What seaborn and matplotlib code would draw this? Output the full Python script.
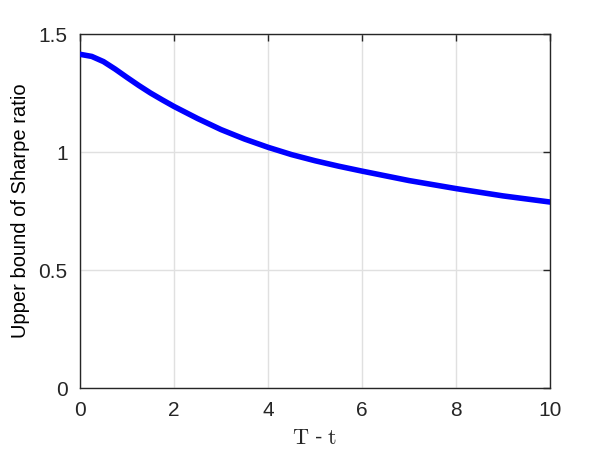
import matplotlib
matplotlib.use("Agg")
import matplotlib.pyplot as plt
import seaborn as sns
import pandas as pd

T_minus_t = [0, 0.25, 0.5, 0.75, 1.0, 1.25, 1.5, 1.75, 2.0, 2.5, 3.0, 3.5, 4.0, 4.5, 5.0, 5.5, 6.0, 7.0, 8.0, 9.0, 10.0]
sharpe_bound = [1.414, 1.405, 1.383, 1.351, 1.316, 1.282, 1.250, 1.221, 1.193, 1.142, 1.095, 1.055, 1.020, 0.989, 0.963, 0.940, 0.919, 0.879, 0.845, 0.814, 0.788]
x_ticks = [0, 2, 4, 6, 8, 10]
y_ticks = [0, 0.5, 1, 1.5]
y_tick_labels = ["0", "0.5", "1", "1.5"]

sns.set_style("white")
plt.rcParams['font.family'] = ['Liberation Sans', 'DejaVu Sans']
plt.rcParams['mathtext.fontset'] = 'cm'

df = pd.DataFrame({"x": T_minus_t, "y": sharpe_bound})

fig = plt.figure(figsize=(6.1, 4.57), dpi=100)
ax = fig.add_axes([80/610, 1-388/457, 470/610, 354/457])
sns.lineplot(data=df, x="x", y="y", ax=ax, color="#0000ff", linewidth=4, zorder=3)

ax.set_xlim(0, 10)
ax.set_ylim(0, 1.5)
ax.set_xticks(x_ticks)
ax.set_yticks(y_ticks)
ax.set_yticklabels(y_tick_labels)
ax.grid(True, color="#e0e0e0", linewidth=1)
ax.set_axisbelow(True)
for s in ax.spines.values():
    s.set_color("#262626")
    s.set_linewidth(1)
    s.set_visible(True)
ax.tick_params(direction="in", length=5, width=1, color="#262626", top=True, right=True,
               labelsize=15, labelcolor="#262626", pad=9)
ax.set_xlabel(r"$\mathrm{T}$ - $\mathrm{t}$", fontsize=16, color="#262626", labelpad=6)
ax.set_ylabel("Upper bound of Sharpe ratio", fontsize=14.5, color="#000000", labelpad=6)

fig.savefig("out.png", dpi=100)
